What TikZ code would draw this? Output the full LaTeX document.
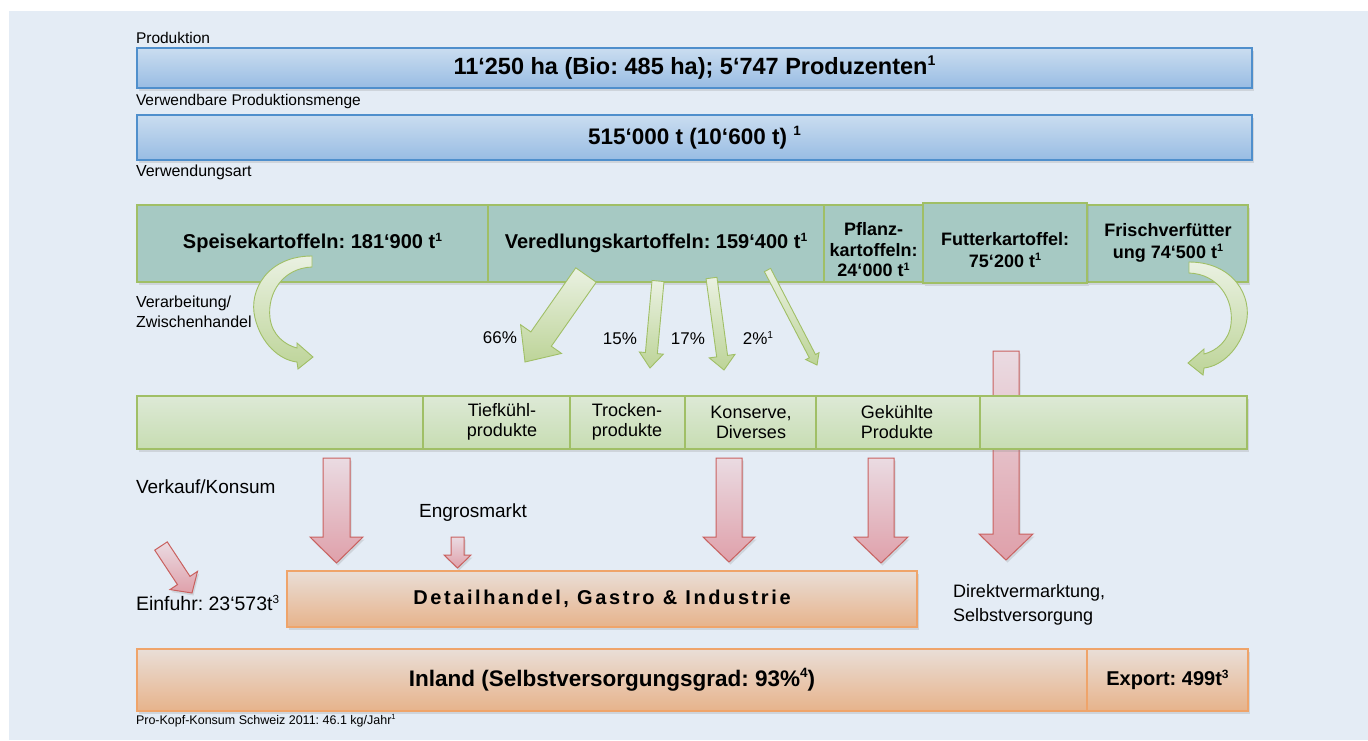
\documentclass[tikz,border=0pt]{standalone}
\usepackage{fontspec}
\setmainfont{Liberation Sans}
\newfontfamily\spacedfont{Liberation Sans}[LetterSpace=13]
\usetikzlibrary{calc,shadows}
\frenchspacing
\newcommand\setfs[2]{\fontsize{#1}{#2}\selectfont}
\newcommand\sups[1]{\raisebox{0.38em}{\scalebox{0.6}{#1}}}
\definecolor{panelbg}{HTML}{E4ECF5}
\definecolor{bluetop}{HTML}{CADDF0}
\definecolor{bluebot}{HTML}{98BCE3}
\definecolor{blueline}{HTML}{4F8FCC}
\definecolor{cellteal}{HTML}{A6C9C3}
\definecolor{greenline}{HTML}{A0BF66}
\definecolor{lgtop}{HTML}{DDE9D6}
\definecolor{lgbot}{HTML}{C7DDB2}
\definecolor{gatop}{HTML}{EAF1E2}
\definecolor{gabot}{HTML}{BDD498}
\definecolor{pktop}{HTML}{EADBE2}
\definecolor{pkbot}{HTML}{DFA0AA}
\definecolor{pkline}{HTML}{C9615F}
\definecolor{ortop}{HTML}{E9DED7}
\definecolor{orbot}{HTML}{E7B38B}
\definecolor{orline}{HTML}{EFA46A}
% block arrow: style, tail, tip, shaft half width, head half width, head length
\newcommand\blkarrow[6]{%
  \coordinate (#2-hb) at ($(#3)!#6!(#2)$);
  \path[#1] ($(#2)!#4!90:(#3)$) -- ($(#2-hb)!#4!90:(#3)$) -- ($(#2-hb)!#5!90:(#3)$)
    -- (#3) -- ($(#2-hb)!#5!-90:(#3)$) -- ($(#2-hb)!#4!-90:(#3)$)
    -- ($(#2)!#4!-90:(#3)$) -- cycle;
}
\begin{document}
\begin{tikzpicture}[x=1pt,y=-1pt,
  softshadow/.style={drop shadow={opacity=0.22,shadow xshift=1.5pt,shadow yshift=-2.5pt}},
  cellbox/.style={rectangle,inner sep=0pt,outer sep=0pt,anchor=north west},
  bar/.style={cellbox,draw=blueline,line width=1.2pt,top color=bluetop,bottom color=bluebot,softshadow},
  gcell/.style={cellbox,draw=greenline,line width=1.2pt,fill=cellteal,softshadow},
  lgcell/.style={cellbox,draw=greenline,line width=1.2pt,top color=lgtop,bottom color=lgbot,softshadow},
  orcell/.style={cellbox,draw=orline,line width=1.2pt,top color=ortop,bottom color=orbot,softshadow},
  garrow/.style={draw=greenline,line width=0.9pt,top color=gatop,bottom color=gabot,line join=miter},
  parrow/.style={draw=pkline,line width=1pt,top color=pktop,bottom color=pkbot,softshadow},
  lbl/.style={inner sep=0pt,outer sep=0pt,text=black},
  btxt/.style={lbl,align=center}
]
\useasboundingbox (0,0) rectangle (1368,740);
\fill[white] (0,0) rectangle (1368,740);
\fill[panelbg] (9,11) rectangle (1368,740);

% ---- top labels and bars
\node[lbl,anchor=mid west,font=\setfs{15.5}{18}] (lprod) at (136,41) {Produktion};
\node[bar,minimum width=1115pt,minimum height=40pt,font=\bfseries\setfs{23.5}{26}] (bar1) at (137,48)
  {11‘250 ha (Bio: 485 ha); 5‘747 Produzenten\sups{1}};
\node[lbl,anchor=mid west,font=\setfs{15.5}{18}] (lverw) at (136,103) {Verwendbare Produktionsmenge};
\node[bar,minimum width=1115pt,minimum height=45pt,font=\bfseries\setfs{22.5}{26}] (bar2) at (137,115)
  {515‘000 t (10‘600 t) \sups{1}};
\node[lbl,anchor=mid west,font=\setfs{16}{18}] (lart) at (136,174) {Verwendungsart};

% ---- Verwendungsart row
\node[gcell,minimum width=351pt,minimum height=77pt] (g1) at (137,205) {};
\node[gcell,minimum width=336pt,minimum height=77pt] (g2) at (488,205) {};
\node[gcell,minimum width=99pt,minimum height=77pt] (g3) at (824,205) {};
\node[gcell,minimum width=161pt,minimum height=77pt] (g5) at (1087,205) {};
\node[gcell,minimum width=164pt,minimum height=80pt] (g4) at (923,203) {};
\node[btxt,font=\bfseries\setfs{20}{22}] (t1) at (312.5,243) {Speisekartoffeln: 181‘900 t\sups{1}};
\node[btxt,font=\bfseries\setfs{20}{22}] (t2) at (656,243) {Veredlungskartoffeln: 159‘400 t\sups{1}};
\node[btxt,font=\bfseries\setfs{18}{20.5}] (t3) at (873.5,250) {Pflanz-\\kartoffeln:\\24‘000 t\sups{1}};
\node[btxt,font=\bfseries\setfs{18}{22}] (t4) at (1005,250) {Futterkartoffel:\\75‘200 t\sups{1}};
\node[btxt,font=\bfseries\setfs{18}{22}] (t5) at (1168,243) {Frischverfütter\\ung 74‘500 t\sups{1}};

\node[lbl,anchor=west,align=left,font=\setfs{16}{19.5}] (lverarb) at (136,312) {Verarbeitung/\\Zwischenhandel};

% ---- curved arrows
\path[garrow] (312,256) .. controls (268,256) and (248,290) .. (255,318)
  .. controls (261,343) and (279,360) .. (297,362) -- (298,369) -- (313,357)
  -- (297,343) -- (297,348) .. controls (285,345) and (272,335) .. (270,318)
  .. controls (267,293) and (283,268) .. (312,267) -- cycle;
\path[garrow] (1189,262) .. controls (1233,262) and (1253,296) .. (1246,324)
  .. controls (1240,349) and (1222,366) .. (1204,368) -- (1203,375) -- (1188,363)
  -- (1204,349) -- (1204,354) .. controls (1216,351) and (1229,341) .. (1231,324)
  .. controls (1234,299) and (1218,274) .. (1189,273) -- cycle;

% ---- straight green arrows
\coordinate (a66s) at (586,275); \coordinate (a66e) at (525,362);
\coordinate (a15s) at (658,281); \coordinate (a15e) at (650,368);
\coordinate (a17s) at (711.5,278); \coordinate (a17e) at (724,370);
\coordinate (a2s) at (767.5,270); \coordinate (a2e) at (817,365);
\blkarrow{garrow}{a66s}{a66e}{12.5pt}{25pt}{28pt}
\blkarrow{garrow}{a15s}{a15e}{6pt}{12pt}{15pt}
\blkarrow{garrow}{a17s}{a17e}{5.5pt}{13pt}{14pt}
\blkarrow{garrow}{a2s}{a2e}{3.5pt}{7.5pt}{10pt}
\node[lbl,font=\setfs{17}{20}] (p66) at (500,338) {66\%};
\node[lbl,font=\setfs{17}{20}] (p15) at (620,339) {15\%};
\node[lbl,font=\setfs{17}{20}] (p17) at (688,339) {17\%};
\node[lbl,font=\setfs{17}{20}] (p2) at (758,338) {2\%\sups{1}};

% ---- long pink arrow behind the product row
\coordinate (pEs) at (1006,351); \coordinate (pEe) at (1006,560);
\blkarrow{parrow}{pEs}{pEe}{13pt}{27pt}{26pt}

% ---- product row
\node[lgcell,minimum width=286pt,minimum height=53pt] (l1) at (137,396) {};
\node[lgcell,minimum width=147pt,minimum height=53pt] (l2) at (423,396) {};
\node[lgcell,minimum width=115pt,minimum height=53pt] (l3) at (570,396) {};
\node[lgcell,minimum width=131pt,minimum height=53pt] (l4) at (685,396) {};
\node[lgcell,minimum width=164pt,minimum height=53pt] (l5) at (816,396) {};
\node[lgcell,minimum width=267pt,minimum height=53pt] (l6) at (980,396) {};
\node[btxt,font=\setfs{18}{20}] (lt2) at (502,422) {Tiefkühl-\\produkte};
\node[btxt,font=\setfs{18}{20}] (lt3) at (627,422) {Trocken-\\produkte};
\node[btxt,font=\setfs{18}{20}] (lt4) at (751,422) {Konserve,\\Diverses};
\node[btxt,font=\setfs{18}{20}] (lt5) at (897,422) {Gekühlte\\Produkte};

% ---- pink arrows
\coordinate (pAs) at (336.5,458); \coordinate (pAe) at (336.5,563);
\coordinate (pBs) at (457.5,537); \coordinate (pBe) at (457.5,568);
\coordinate (pCs) at (729,458); \coordinate (pCe) at (729,562);
\coordinate (pDs) at (881,458); \coordinate (pDe) at (881,563);
\coordinate (pFs) at (161,546); \coordinate (pFe) at (192,593);
\blkarrow{parrow}{pAs}{pAe}{13.5pt}{26.5pt}{26pt}
\blkarrow{parrow}{pBs}{pBe}{6.5pt}{13.5pt}{13pt}
\blkarrow{parrow}{pCs}{pCe}{13pt}{26pt}{25pt}
\blkarrow{parrow}{pDs}{pDe}{13pt}{27pt}{26pt}
\blkarrow{parrow}{pFs}{pFe}{7.5pt}{16.5pt}{15pt}

\node[lbl,anchor=mid west,font=\setfs{19}{22}] (lverk) at (136,491) {Verkauf/Konsum};
\node[lbl,font=\setfs{19}{22}] (lengros) at (473,513) {Engrosmarkt};
\node[lbl,anchor=mid west,font=\setfs{19.5}{22}] (leinf) at (136,608) {Einfuhr: 23‘573t\sups{3}};

% ---- retail box
\node[orcell,minimum width=630pt,minimum height=56pt,font=\spacedfont\bfseries\setfs{20}{24}] (detail) at (287,571)
  {Detailhandel, Gastro \& Industrie};
\node[lbl,anchor=west,align=left,font=\setfs{18}{24}] (ldirekt) at (953,605) {Direktvermarktung,\\Selbstversorgung};

% ---- bottom row
\node[orcell,minimum width=950pt,minimum height=62pt,font=\bfseries\setfs{22.5}{26}] (inland) at (137,649)
  {Inland (Selbstversorgungsgrad: 93\%\sups{4})};
\node[orcell,minimum width=161pt,minimum height=62pt,font=\bfseries\setfs{20}{24}] (export) at (1087,649)
  {Export: 499t\sups{3}};
\node[lbl,anchor=mid west,font=\setfs{12.5}{14}] (lprokopf) at (136,722) {Pro-Kopf-Konsum Schweiz 2011: 46.1 kg/Jahr\sups{1}};
\end{tikzpicture}
\end{document}
